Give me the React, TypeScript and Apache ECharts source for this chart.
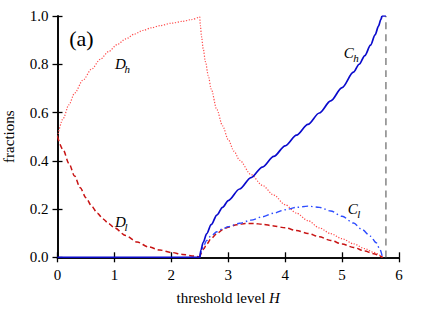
import { useEffect, useRef } from 'react';
import * as echarts from 'echarts';

const X_MIN = 0;
const X_MAX = 6;
const Y_MIN = 0;
const Y_MAX = 1;
const X_INTERVAL = 1;
const Y_INTERVAL = 0.2;

// D_h (light red dotted)
const dhLeft: number[][] = [
  [0, 0.5], [0.1, 0.575], [0.2, 0.632], [0.3, 0.68], [0.45, 0.735], [0.6, 0.78],
  [0.75, 0.82], [0.9, 0.853], [1.05, 0.882], [1.2, 0.905], [1.35, 0.925], [1.5, 0.94],
  [1.65, 0.951], [1.8, 0.96], [2.0, 0.97], [2.2, 0.978], [2.35, 0.985], [2.5, 0.997],
];
const dhRight: number[][] = [
  [2.5, 0.997], [2.51, 0.96], [2.53, 0.915], [2.56, 0.865], [2.6, 0.81], [2.65, 0.752],
  [2.7, 0.697], [2.8, 0.612], [2.9, 0.545], [3.0, 0.488], [3.1, 0.44], [3.2, 0.402],
  [3.4, 0.343], [3.6, 0.298], [3.8, 0.258], [4.0, 0.218], [4.2, 0.183], [4.4, 0.152],
  [4.6, 0.122], [4.8, 0.098], [5.0, 0.077], [5.2, 0.056], [5.4, 0.036], [5.55, 0.021],
  [5.71, 0.0],
];
// D_l (dark red dashed)
const dlLeft: number[][] = [
  [0, 0.5], [0.1, 0.445], [0.2, 0.39], [0.3, 0.337], [0.4, 0.288], [0.5, 0.247],
  [0.6, 0.212], [0.7, 0.183], [0.8, 0.159], [0.9, 0.139], [1.0, 0.122], [1.2, 0.09],
  [1.4, 0.063], [1.6, 0.043], [1.8, 0.03], [2.0, 0.02], [2.2, 0.012], [2.4, 0.005], [2.5, 0.0],
];
const dlRight: number[][] = [
  [2.5, 0.0], [2.53, 0.018], [2.57, 0.035], [2.62, 0.055], [2.7, 0.078], [2.8, 0.098],
  [2.9, 0.114], [3.0, 0.125], [3.15, 0.135], [3.3, 0.14], [3.45, 0.14], [3.6, 0.137],
  [3.8, 0.13], [4.0, 0.122], [4.2, 0.111], [4.4, 0.099], [4.6, 0.085], [4.8, 0.07],
  [5.0, 0.055], [5.2, 0.041], [5.4, 0.026], [5.55, 0.015], [5.71, 0.0],
];
// C_h (blue solid)
const chLeft: number[][] = [[0, 0], [2.5, 0]];
const chRight: number[][] = [
  [2.5, 0], [2.52, 0.03], [2.56, 0.062], [2.62, 0.097], [2.7, 0.135], [2.8, 0.175],
  [2.9, 0.207], [3.0, 0.235], [3.2, 0.283], [3.4, 0.33], [3.6, 0.374], [3.8, 0.418],
  [4.0, 0.462], [4.2, 0.506], [4.4, 0.551], [4.6, 0.598], [4.8, 0.648], [5.0, 0.703],
  [5.2, 0.767], [5.3, 0.8], [5.4, 0.836], [5.5, 0.879], [5.58, 0.922], [5.64, 0.958],
  [5.68, 0.985], [5.7, 1.0],
];
const chTop: number[][] = [[5.7, 1.0], [5.77, 1.0]];
// C_l (blue dash-dot)
const clRight: number[][] = [
  [2.5, 0], [2.53, 0.025], [2.57, 0.048], [2.62, 0.07], [2.7, 0.09], [2.8, 0.106],
  [2.9, 0.118], [3.0, 0.127], [3.2, 0.141], [3.4, 0.154], [3.6, 0.168], [3.8, 0.183],
  [4.0, 0.197], [4.2, 0.207], [4.4, 0.212], [4.6, 0.207], [4.8, 0.192], [5.0, 0.17],
  [5.2, 0.142], [5.35, 0.115], [5.5, 0.087], [5.6, 0.06], [5.66, 0.035], [5.71, 0.0],
];
// Grey dashed boundary
const boundary: number[][] = [[5.77, 0], [5.77, 1]];

// Curve labels: [main, subscript, x, y] anchored at left / vertical middle of main letter
const curveLabels: [string, string, number, number][] = [
  ['D', 'h', 1.01, 0.803],
  ['C', 'h', 5.03, 0.845],
  ['D', 'l', 1.01, 0.146],
  ['C', 'l', 5.1, 0.2],
];
const panelLabel = '(a)';
const xName = 'threshold level ';
const xNameItalic = 'H';
const yName = 'fractions';

const FONT = '"Liberation Serif", "DejaVu Serif", serif';

export default function App() {
  const ref = useRef<HTMLDivElement>(null);

  useEffect(() => {
    if (!ref.current) return;
    const chart = echarts.init(ref.current, undefined, { renderer: 'svg' });

    const axisLine = { show: true, lineStyle: { color: '#000', width: 1.6 } };
    const tick = { show: true, inside: true, length: 5, lineStyle: { color: '#000', width: 1.3 } };
    const labelStyle = { color: '#000', fontFamily: FONT, fontSize: 15 };

    const line = (data: number[][], color: string, type: any, width: number, z: number) => ({
      type: 'line',
      data,
      showSymbol: false,
      symbol: 'none',
      smooth: 0.3,
      smoothMonotone: 'x',
      z,
      lineStyle: { color, type, width, cap: 'butt' },
      silent: true,
    });

    const dhColor = '#ff4a4a';
    const dlColor = '#c81414';
    const chColor = '#0a0acc';
    const clColor = '#2d4cff';

    chart.setOption({
      animation: false,
      grid: {
        left: 57.5, right: 37, top: 16, bottom: 51.7,
        containLabel: false, outerBoundsMode: 'none',
      },
      xAxis: [
        {
          type: 'value', min: X_MIN, max: X_MAX, interval: X_INTERVAL,
          axisLine, axisTick: tick, splitLine: { show: false },
          axisLabel: { ...labelStyle, margin: 10 },
        },
        {
          type: 'value', position: 'top', min: X_MIN, max: X_MAX, interval: X_INTERVAL,
          axisLine, axisTick: tick, splitLine: { show: false }, axisLabel: { show: false },
        },
      ],
      yAxis: [
        {
          type: 'value', min: Y_MIN, max: Y_MAX, interval: Y_INTERVAL,
          axisLine, axisTick: tick, splitLine: { show: false },
          axisLabel: { ...labelStyle, margin: 9, formatter: (v: number) => v.toFixed(1) },
          name: yName, nameLocation: 'middle', nameGap: 41, nameRotate: 90,
          nameTextStyle: { color: '#000', fontFamily: FONT, fontSize: 15 },
        },
        {
          type: 'value', position: 'right', min: Y_MIN, max: Y_MAX, interval: Y_INTERVAL,
          axisLine, axisTick: tick, splitLine: { show: false }, axisLabel: { show: false },
        },
      ],
      series: [
        line(dhLeft, dhColor, [1.2, 1.6], 1.2, 2),
        line(dhRight, dhColor, [1.2, 1.6], 1.2, 2),
        line(dlLeft, dlColor, [5, 3], 1.5, 3),
        line(dlRight, dlColor, [5, 3], 1.5, 3),
        line(clRight, clColor, [6, 3, 1.5, 3], 1.4, 4),
        line(chLeft, chColor, 'solid', 1.7, 5),
        line(chRight, chColor, 'solid', 1.7, 5),
        line(chTop, chColor, 'solid', 1.7, 5),
        line(boundary, '#8c8c8c', [7, 5], 1.6, 1),
      ],
    });

    const graphics: any[] = [];
    curveLabels.forEach(([main, sub, x, y]) => {
      const p = chart.convertToPixel({ gridIndex: 0 }, [x, y]) as number[];
      graphics.push({
        type: 'text', x: p[0], y: p[1], z: 10,
        style: { text: main, font: `italic 15px ${FONT}`, fill: '#000', align: 'left', verticalAlign: 'middle' },
      });
      graphics.push({
        type: 'text', x: p[0] + 9.5, y: p[1] + 5, z: 10,
        style: { text: sub, font: `italic 11px ${FONT}`, fill: '#000', align: 'left', verticalAlign: 'middle' },
      });
    });
    const pa = chart.convertToPixel({ gridIndex: 0 }, [0.42, 0.905]) as number[];
    graphics.push({
      type: 'text', x: pa[0], y: pa[1], z: 10,
      style: { text: panelLabel, font: `22px ${FONT}`, fill: '#000', align: 'center', verticalAlign: 'middle' },
    });
    const xc = chart.convertToPixel({ gridIndex: 0 }, [3, 0]) as number[];
    graphics.push({
      type: 'text', x: xc[0], y: 298, z: 10,
      style: {
        text: `{n|${xName}}{i|${xNameItalic}}`,
        align: 'center', verticalAlign: 'middle',
        rich: {
          n: { fontFamily: FONT, fontSize: 15, fill: '#000', color: '#000' },
          i: { fontFamily: FONT, fontSize: 15, fontStyle: 'italic', fill: '#000', color: '#000' },
        },
      },
    });
    chart.setOption({ graphic: graphics });

    return () => chart.dispose();
  }, []);

  return (
    <div
      ref={ref}
      style={{ position: 'fixed', left: 0, top: 0, width: 436, height: 309, background: '#fff' }}
    />
  );
}
